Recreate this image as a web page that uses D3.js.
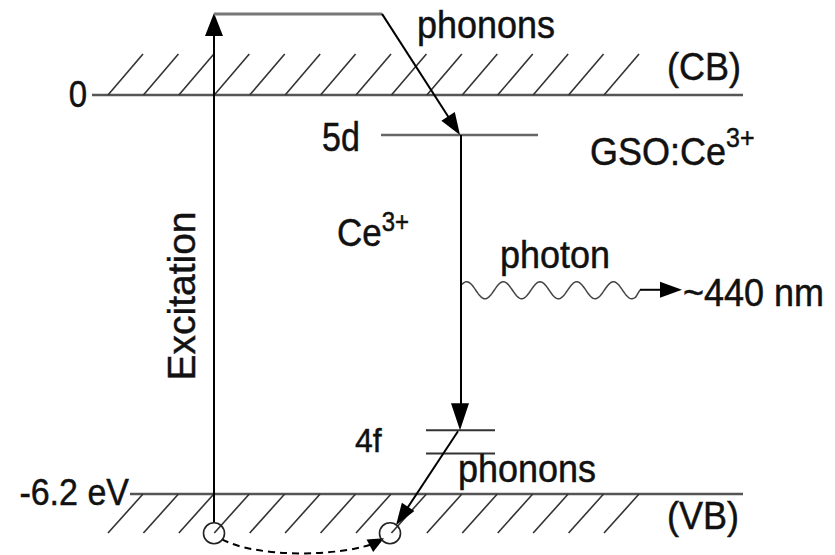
<!DOCTYPE html>
<html>
<head>
<meta charset="utf-8">
<script src="https://cdn.jsdelivr.net/npm/d3@7"></script>
<style>
  html, body { margin: 0; padding: 0; background: #fff; }
  svg { display: block; }
  text { font-family: "Liberation Sans", Arial, sans-serif; fill: #111; stroke: #111; stroke-width: 0.45px; }
</style>
</head>
<body>
<svg id="chart" width="835" height="555"></svg>
<script>
// Energy scale (eV) of the GSO:Ce3+ scintillation scheme
const bandNames = ["(CB)", "(VB)"];
const bandEnergies = [0, -6.2];
const tickLabels = ["0", "-6.2 eV"];
const ceLevelNames = ["5d", "4f"];
const ceLevelEnergies = [-0.62, -5.21];
const fSplitEnergies = [-5.21, -5.57];
const hotElectronEnergy = [1.26];
const holeEnergy = [-6.81];
const photonEnergy = [-2.98];
const textLabels = ["phonons", "phonons", "photon", "~440 nm", "Excitation", "Ce", "GSO:Ce"];
const superscripts = ["3+"];

const svg = d3.select("#chart");
const W = 835, H = 555;
svg.append("rect").attr("width", W).attr("height", H).attr("fill", "#fff");

// vertical energy scale
const y = d3.scaleLinear().domain([bandEnergies[0], bandEnergies[1]]).range([95, 494]);

// horizontal layout positions (px)
const X = {
  bandStart: 92, vbStart: 130, bandEnd: 743,
  excite: 214, hotTurn: 382, emit: 460,
  dStart: 381, dEnd: 538, fStart: 426, fEnd: 495,
  hole2: 390, waveEnd: 640, photonTip: 682
};

const g = svg.append("g");

function arrowHead(tx, ty, angleDeg, len, half) {
  const a = angleDeg * Math.PI / 180;
  const bx = tx - len * Math.cos(a), by = ty - len * Math.sin(a);
  const px = -Math.sin(a) * half, py = Math.cos(a) * half;
  g.append("path")
    .attr("d", `M${tx},${ty}L${bx + px},${by + py}L${bx - px},${by - py}Z`)
    .attr("fill", "#000");
}

// band edges
const yCB = y(bandEnergies[0]), yVB = y(bandEnergies[1]);
g.append("line").attr("x1", X.bandStart).attr("x2", X.bandEnd)
  .attr("y1", yCB).attr("y2", yCB).attr("stroke", "#555").attr("stroke-width", 2.5);
g.append("line").attr("x1", X.vbStart).attr("x2", X.bandEnd)
  .attr("y1", yVB).attr("y2", yVB).attr("stroke", "#555").attr("stroke-width", 2.5);

// hatching of both bands
const hatchX = d3.range(15).map(i => 108 + i * 35.43);
const hatchH = 41, hatchW = 35;
g.selectAll(".hcb").data(hatchX).join("line")
  .attr("x1", d => d).attr("y1", yCB)
  .attr("x2", d => d + hatchW).attr("y2", yCB - hatchH)
  .attr("stroke", "#333").attr("stroke-width", 1.6);
g.selectAll(".hvb").data(hatchX).join("line")
  .attr("x1", d => d + hatchW).attr("y1", yVB)
  .attr("x2", d => d).attr("y2", yVB + hatchH - 2)
  .attr("stroke", "#333").attr("stroke-width", 1.6);

// Ce3+ levels
const y5d = y(ceLevelEnergies[0]);
g.append("line").attr("x1", X.dStart).attr("x2", X.dEnd)
  .attr("y1", y5d).attr("y2", y5d).attr("stroke", "#666").attr("stroke-width", 2.5);
fSplitEnergies.forEach(e => {
  g.append("line").attr("x1", X.fStart).attr("x2", X.fEnd)
    .attr("y1", y(e)).attr("y2", y(e)).attr("stroke", "#333").attr("stroke-width", 2);
});

// holes in the valence band
const yHole = y(holeEnergy[0]);
const holeR = 10.5;

// excitation arrow
const yHot = y(hotElectronEnergy[0]);
g.append("line").attr("x1", X.excite).attr("x2", X.excite)
  .attr("y1", yHole - holeR).attr("y2", yHot + 20)
  .attr("stroke", "#000").attr("stroke-width", 2);
arrowHead(X.excite, yHot - 1, -90, 23, 9);

// hot electron thermalisation (phonons)
g.append("line").attr("x1", X.excite).attr("x2", X.hotTurn)
  .attr("y1", yHot).attr("y2", yHot).attr("stroke", "#777").attr("stroke-width", 3);
{
  const dx = X.emit - X.hotTurn, dy = y5d - yHot;
  const ang = Math.atan2(dy, dx) * 180 / Math.PI;
  const L = Math.hypot(dx, dy);
  g.append("line").attr("x1", X.hotTurn).attr("y1", yHot)
    .attr("x2", X.hotTurn + dx * (L - 18) / L).attr("y2", yHot + dy * (L - 18) / L)
    .attr("stroke", "#000").attr("stroke-width", 2);
  arrowHead(X.emit, y5d, ang, 22, 8);
}

// 5d -> 4f radiative transition
const y4f = y(fSplitEnergies[0]);
g.append("line").attr("x1", X.emit + 1).attr("x2", X.emit + 1)
  .attr("y1", y5d).attr("y2", y4f - 20).attr("stroke", "#000").attr("stroke-width", 2);
arrowHead(X.emit, y4f, 90, 27, 9);

// 4f -> VB relaxation (phonons)
{
  const sx = X.emit - 2, sy = y4f + 1;
  const tx = X.hole2 + 6, ty = yHole - 8;
  const dx = tx - sx, dy = ty - sy;
  const L = Math.hypot(dx, dy);
  const ang = Math.atan2(dy, dx) * 180 / Math.PI;
  g.append("line").attr("x1", sx).attr("y1", sy)
    .attr("x2", sx + dx * (L - 16) / L).attr("y2", sy + dy * (L - 16) / L)
    .attr("stroke", "#000").attr("stroke-width", 2);
  arrowHead(tx, ty, ang, 22, 7.5);
}

// hole migration (dashed)
{
  const p = d3.path();
  p.moveTo(X.excite + 8, yHole + 6);
  p.bezierCurveTo(X.excite + 40, yHole + 24, X.hole2 - 50, yHole + 25, X.hole2 - 10, yHole + 8);
  g.append("path").attr("d", p.toString()).attr("fill", "none")
    .attr("stroke", "#000").attr("stroke-width", 2).attr("stroke-dasharray", "7,5");
  arrowHead(X.hole2 - 6, yHole + 5, -28, 16, 7);
}

// hole circles
[X.excite, X.hole2].forEach(cx => {
  g.append("circle").attr("cx", cx).attr("cy", yHole).attr("r", holeR)
    .attr("fill", "none").attr("stroke", "#222").attr("stroke-width", 1.6);
});

// emitted photon (wavy line)
{
  const yPh = y(photonEnergy[0]);
  const period = 36.7, amp = 8.5, x0 = X.emit + 2, x1 = X.waveEnd - 4, trough = 485;
  const pts = d3.range(x0, x1 + 0.5, 1).map(px => [px, yPh + 3.5 + amp * Math.cos(2 * Math.PI * (px - trough) / period)]);
  pts.push([X.waveEnd, yPh + 3]);
  g.append("path").attr("d", d3.line()(pts)).attr("fill", "none")
    .attr("stroke", "#444").attr("stroke-width", 1.5);
  g.append("line").attr("x1", X.waveEnd).attr("x2", X.photonTip - 18)
    .attr("y1", yPh + 3).attr("y2", yPh + 3).attr("stroke", "#000").attr("stroke-width", 2);
  arrowHead(X.photonTip, yPh + 3, 0, 22, 8);
}

// text
function label(txt, tx, ty, size, anchor, sy) {
  return g.append("text").attr("font-size", size).attr("text-anchor", anchor || "start")
    .attr("transform", `translate(${tx},${ty}) scale(1,${sy || 1.1})`).text(txt);
}
label(tickLabels[0], 87, yCB + 12, 33, "end");
label(tickLabels[1], 129, yVB + 11, 34, "end");
label(bandNames[0], 667, 80, 36);
label(bandNames[1], 667, 529, 36);
label(ceLevelNames[0], 322, 151, 34, "start", 1.2);
label(ceLevelNames[1], 355, 452, 32, "start", 1.05);
label(textLabels[0], 417, 38, 36);
label(textLabels[1], 458, 482, 36);
label(textLabels[2], 500, 268, 36);
label(textLabels[3], 683, 306, 36);

// Ce3+
{
  const t = g.append("text").attr("font-size", 35)
    .attr("transform", "translate(337,246) scale(1,1.12)");
  t.append("tspan").text(textLabels[5]);
  t.append("tspan").attr("font-size", 24).attr("dy", -13).text(superscripts[0]);
}
// GSO:Ce3+
{
  const t = g.append("text").attr("font-size", 36)
    .attr("transform", "translate(590,165) scale(1,1.1)");
  t.append("tspan").text(textLabels[6]);
  t.append("tspan").attr("font-size", 25).attr("dy", -16).text(superscripts[0]);
}
// Excitation (vertical)
g.append("text").attr("font-size", 39).attr("text-anchor", "middle")
  .attr("transform", "translate(195,296) rotate(-90)")
  .text(textLabels[4]);
</script>
</body>
</html>
